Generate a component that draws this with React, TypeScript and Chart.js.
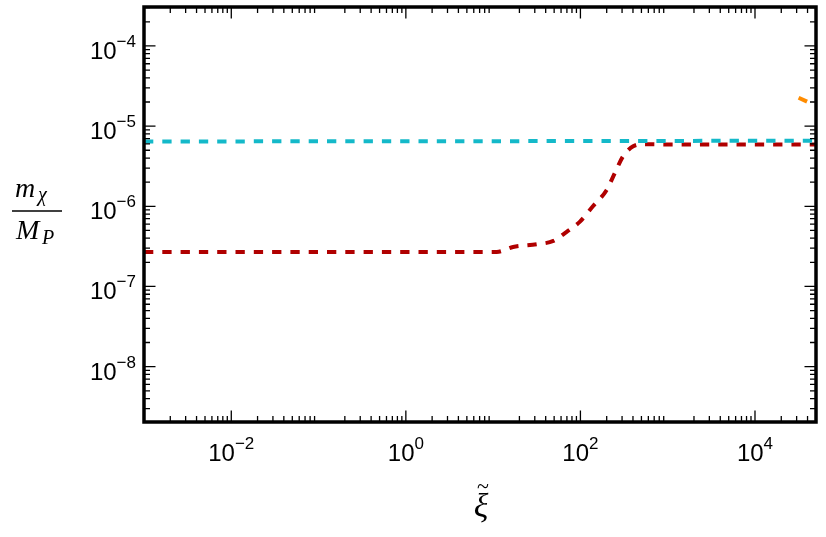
import { useEffect, useRef } from 'react';
import { Chart, registerables } from 'chart.js';

Chart.register(...registerables);

// ---- data ----
const cyanX = [1e-3, 1e-2, 1e-1, 1, 10, 100, 1e3, 1e4, 5e4];
const cyanY = [6.44e-6, 6.45e-6, 6.46e-6, 6.47e-6, 6.49e-6, 6.52e-6, 6.54e-6, 6.56e-6, 6.58e-6];

const redX = [1e-3, 1e-1, 1, 11, 16.9, 31.6, 49, 69.6, 98.8, 139, 200, 248, 308, 402, 525, 1000, 1e4, 5e4];
const redY = [2.69e-7, 2.69e-7, 2.69e-7, 2.7e-7, 3.11e-7, 3.36e-7, 3.7e-7, 4.8e-7, 6.45e-7, 1.0e-6, 1.6e-6, 2.6e-6, 4.2e-6, 5.6e-6, 5.95e-6, 5.9e-6, 5.9e-6, 5.9e-6];

const orangeX = [3.16e4, 4.0e4];
const orangeY = [2.26e-5, 2.01e-5];

const xLabelExponents = [-2, 0, 2, 4];
const yLabelExponents = [-8, -7, -6, -5, -4];

const X_MIN = 1e-3;
const X_MAX = 5e4;
const Y_MIN = 2.04e-9;
const Y_MAX = 3.06e-4;

const toPoints = (xs: number[], ys: number[]) => xs.map((x, i) => ({ x, y: ys[i] }));

const supText = (e: number) => (e < 0 ? '\u2212' + Math.abs(e) : String(e));

const decoPlugin = {
  id: 'deco',
  afterDraw(chart: any) {
    const ctx: CanvasRenderingContext2D = chart.ctx;
    const { left, right, top, bottom } = chart.chartArea;
    const xs = chart.scales.x;
    const ys = chart.scales.y;
    ctx.save();
    ctx.strokeStyle = '#000';
    ctx.fillStyle = '#000';

    // ticks
    ctx.lineWidth = 1.3;
    const majorLen = 11.5;
    const minorLen = 6;
    for (let e = -3; e <= 4; e++) {
      for (let m = 1; m <= 9; m++) {
        const v = m * Math.pow(10, e);
        if (v < X_MIN * 0.999 || v > X_MAX * 1.001) continue;
        let len = minorLen;
        if (m === 1) {
          if (e % 2 !== 0) continue;
          len = majorLen;
        }
        const px = xs.getPixelForValue(v);
        ctx.beginPath();
        ctx.moveTo(px, bottom);
        ctx.lineTo(px, bottom - len);
        ctx.moveTo(px, top);
        ctx.lineTo(px, top + len);
        ctx.stroke();
      }
    }
    for (let e = -9; e <= -4; e++) {
      for (let m = 1; m <= 9; m++) {
        const v = m * Math.pow(10, e);
        if (v < Y_MIN || v > Y_MAX) continue;
        const len = m === 1 ? majorLen : minorLen;
        const py = ys.getPixelForValue(v);
        ctx.beginPath();
        ctx.moveTo(left, py);
        ctx.lineTo(left + len, py);
        ctx.moveTo(right, py);
        ctx.lineTo(right - len, py);
        ctx.stroke();
      }
    }

    // frame
    ctx.lineWidth = 3.5;
    ctx.strokeRect(left, top, right - left, bottom - top);

    // tick labels
    const mainFont = '24px "Liberation Sans", Arial, sans-serif';
    const supFont = '17px "Liberation Sans", Arial, sans-serif';
    ctx.textBaseline = 'alphabetic';
    ctx.textAlign = 'left';
    for (const e of xLabelExponents) {
      const px = xs.getPixelForValue(Math.pow(10, e));
      ctx.font = mainFont;
      const w1 = ctx.measureText('10').width;
      ctx.font = supFont;
      const s = supText(e);
      const w2 = ctx.measureText(s).width;
      const x0 = px - (w1 + w2) / 2;
      const base = 461;
      ctx.font = mainFont;
      ctx.fillText('10', x0, base);
      ctx.font = supFont;
      ctx.fillText(s, x0 + w1, base - 12);
    }
    for (const e of yLabelExponents) {
      const py = ys.getPixelForValue(Math.pow(10, e));
      ctx.font = mainFont;
      const w1 = ctx.measureText('10').width;
      ctx.font = supFont;
      const s = supText(e);
      const w2 = ctx.measureText(s).width;
      const xr = left - 8;
      const x0 = xr - w1 - w2;
      const base = py + 13;
      ctx.font = mainFont;
      ctx.fillText('10', x0, base);
      ctx.font = supFont;
      ctx.fillText(s, x0 + w1, base - 12);
    }

    // y axis title: m_chi / M_P
    const it = 'italic 28px "Liberation Serif", "DejaVu Serif", serif';
    const itSub = 'italic 20px "Liberation Serif", "DejaVu Serif", serif';
    ctx.font = it;
    ctx.fillText('m', 15, 197);
    ctx.font = itSub;
    ctx.fillText('\u03c7', 38, 201);
    ctx.lineWidth = 1.6;
    ctx.beginPath();
    ctx.moveTo(12, 211);
    ctx.lineTo(62, 211);
    ctx.stroke();
    ctx.font = it;
    ctx.fillText('M', 16, 239);
    ctx.font = itSub;
    ctx.fillText('P', 42, 244);

    // x axis title: xi tilde
    ctx.font = 'italic 34px "Liberation Serif", "DejaVu Serif", serif';
    ctx.textAlign = 'center';
    ctx.fillText('\u03be', 481, 517);
    ctx.font = '22px "Liberation Serif", "DejaVu Serif", serif';
    ctx.fillText('~', 483, 493);

    ctx.restore();
  },
};

export default function App() {
  const ref = useRef<HTMLCanvasElement | null>(null);
  useEffect(() => {
    if (!ref.current) return;
    const common = {
      pointRadius: 0,
      borderWidth: 4,
      fill: false,
      borderCapStyle: 'butt' as const,
      cubicInterpolationMode: 'monotone' as const,
    };
    const chart = new Chart(ref.current, {
      type: 'line',
      data: {
        datasets: [
          { ...common, data: toPoints(cyanX, cyanY), borderColor: '#14b9c9', borderDash: [9.3, 9] },
          { ...common, data: toPoints(redX, redY), borderColor: '#b00000', borderDash: [9.3, 9] },
          { ...common, data: toPoints(orangeX, orangeY), borderColor: '#ff8c00', borderDash: [9.3, 9] },
        ],
      },
      options: {
        animation: false,
        responsive: false,
        events: [],
        layout: { padding: { left: 144, top: 7, right: 10, bottom: 115 } },
        plugins: { legend: { display: false }, tooltip: { enabled: false } },
        scales: {
          x: { type: 'logarithmic', min: X_MIN, max: X_MAX, display: false },
          y: { type: 'logarithmic', min: Y_MIN, max: Y_MAX, display: false },
        },
      },
      plugins: [decoPlugin],
    });
    return () => chart.destroy();
  }, []);
  return (
    <div style={{ position: 'fixed', left: 0, top: 0, width: 826, height: 537, background: '#fff' }}>
      <canvas ref={ref} width={826} height={537} style={{ width: 826, height: 537, display: 'block' }} />
    </div>
  );
}
